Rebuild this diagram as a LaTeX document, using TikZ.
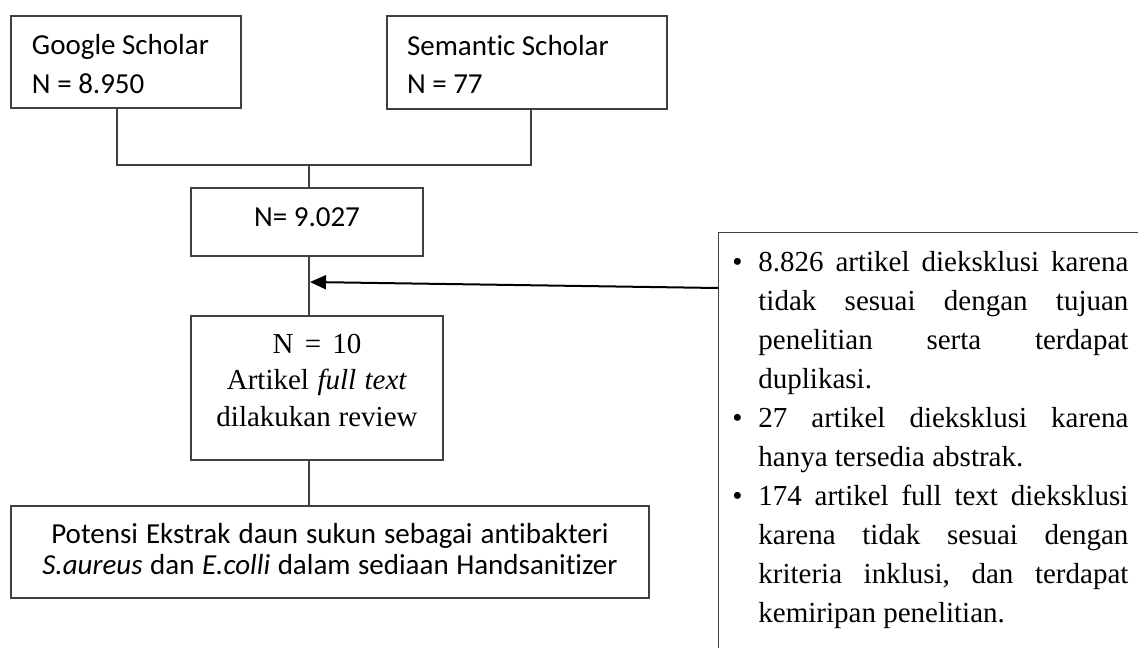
\documentclass[tikz,border=0pt]{standalone}
\usepackage{fontspec}
\setmainfont{Liberation Serif}
\newfontfamily\calibrifont[Ligatures=NoCommon]{Carlito}
\usetikzlibrary{arrows.meta,calc}
\newcommand{\mybul}{\makebox[13pt][l]{\textbullet}}
\newcommand{\myind}{\hspace*{13pt}}
\newcommand{\jline}[1]{\hbox to 185pt{#1}}
\newcommand{\nsp}{\spaceskip=0pt\xspaceskip=0pt\relax}
\begin{document}
\begin{tikzpicture}[x=0.5pt,y=-0.5pt,
  box/.style={draw=black!75, line width=0.6pt, inner ysep=0pt},
  conn/.style={draw=black!75, line width=0.6pt},
  arr/.style={draw=black, line width=1pt, -{Triangle[length=8pt,width=7pt]}},
  cal/.style={font=\calibrifont\fontsize{14.5}{19}\selectfont},
]
\useasboundingbox (0,0) rectangle (1138,647);
\clip (0,0) rectangle (1138,647);
\fill[white] (0,0) rectangle (1138,647);

\node[box, cal, minimum width=115pt, minimum height=46pt, text width=94pt, inner xsep=10.5pt, align=left, text height=12pt, text depth=19pt] (gs) at (126,62) {\nsp Google Scholar\\N = 8.950};

\node[box, cal, minimum width=140pt, minimum height=46.5pt, text width=120pt, inner xsep=10pt, align=left, text height=12pt, text depth=19pt] (ss) at (527,62.5) {\nsp Semantic Scholar\\N = 77};

\node[box, cal, minimum width=116pt, minimum height=34pt, text height=9pt, text depth=5pt] (n1) at (307,222) {N= 9.027};

\node[box, font=\fontsize{14.5}{18.25}\selectfont, minimum width=126pt, minimum height=72pt, text width=110pt, inner xsep=8pt, align=center, text height=11pt, text depth=46pt] (n2) at (317,388) {\nsp N = 10\\Artikel \textit{full text}\\dilakukan review};

\node[box, font=\calibrifont\fontsize{14.5}{15.5}\selectfont, minimum width=319pt, minimum height=46pt, text width=305pt, inner xsep=7pt, align=center, text height=10pt, text depth=19pt] (fin) at (330,552) {\nsp Potensi Ekstrak daun sukun sebagai antibakteri\\\textit{S.aureus} dan \textit{E.colli} dalam sediaan Handsanitizer};

\node[box, anchor=north west, minimum width=300pt, minimum height=250pt] (ex) at (718,232) {};

\node[anchor=base west, inner sep=0pt, text width=198pt, align=left, font=\fontsize{14.5}{19.55}\selectfont] (extext) at (732,271) {\nsp
\mybul\jline{8.826\hfill artikel\hfill dieksklusi\hfill karena}\\
\myind\jline{tidak\hfill sesuai\hfill dengan\hfill tujuan}\\
\myind\jline{penelitian\hfill serta\hfill terdapat}\\
\myind duplikasi.\\
\mybul\jline{27\hfill artikel\hfill dieksklusi\hfill karena}\\
\myind hanya tersedia abstrak.\\
\mybul\jline{174\hfill artikel\hfill full\hfill text\hfill dieksklusi}\\
\myind\jline{karena\hfill tidak\hfill sesuai\hfill dengan}\\
\myind\jline{kriteria\hfill inklusi,\hfill dan\hfill terdapat}\\
\myind kemiripan penelitian.};

\coordinate (gx) at (117,165);
\coordinate (sx) at (531,165);
\coordinate (mx) at (309,165);
\coordinate (hit) at (310,282);

\draw[conn] (gs.south -| gx) -- (gx) -- (sx) -- (ss.south -| sx);
\draw[conn] (mx) -- (n1.north -| mx);
\draw[conn] (n1.south -| mx) -- (n2.north -| mx);
\draw[conn] (n2.south -| mx) -- (fin.north -| mx);
\draw[arr] ($(ex.north west)+(0,56)$) -- (hit);
\end{tikzpicture}
\end{document}
